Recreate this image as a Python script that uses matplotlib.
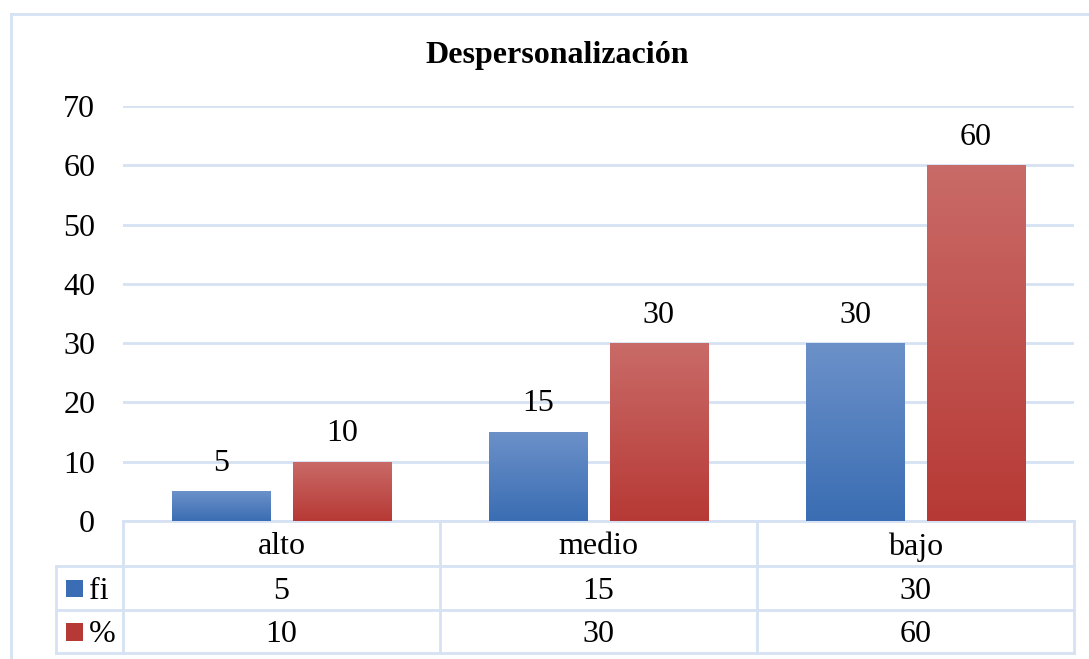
import numpy as np
import matplotlib.pyplot as plt
from matplotlib.lines import Line2D
from matplotlib.patches import Rectangle
import matplotlib.transforms as mtransforms

plt.rcParams['font.family'] = ['Liberation Serif', 'DejaVu Serif']

# data
categories = ["alto", "medio", "bajo"]
fi = [5, 15, 30]
pct = [10, 30, 60]
series_names = ["fi", "%"]

grid_col = "#d6e2f3"
blue_top, blue_bot = "#6c91c9", "#3a6db3"
red_top, red_bot = "#c96b68", "#b73935"

W, H = 1089, 659
fig = plt.figure(figsize=(W / 100, H / 100), dpi=100)
ax = fig.add_axes([123 / W, 1 - 521 / H, (1074 - 123) / W, (521 - 106) / H])

x = np.arange(len(categories))
bw = 0.31
off = 0.19
fs = 23


def gradient_bars(xs, vals, c_top, c_bot):
    bars = ax.bar(xs, vals, bw, color="none", edgecolor="none", zorder=3)
    cmap = plt.matplotlib.colors.LinearSegmentedColormap.from_list("g", [c_bot, c_top])
    grad = np.linspace(0, 1, 256).reshape(-1, 1)
    for b in bars:
        x0, y0 = b.get_x(), b.get_y()
        w, h = b.get_width(), b.get_height()
        im = ax.imshow(grad, cmap=cmap, origin="lower", aspect="auto",
                       extent=[x0, x0 + w, y0, y0 + h], zorder=3)
        im.set_clip_path(b)
        ax.text(x0 + w / 2, h + 2.3, str(int(h)), ha="center", va="bottom",
                fontsize=fs, color="black")
    return bars


gradient_bars(x - off, fi, blue_top, blue_bot)
gradient_bars(x + off, pct, red_top, red_bot)

ax.set_xlim(-0.5, len(categories) - 0.5)
ax.set_ylim(0, 70)
ax.set_yticks(range(0, 71, 10))
ax.yaxis.grid(True, color=grid_col, linewidth=2)
ax.set_axisbelow(True)
ax.set_xticks([])
for s in ["top", "right", "left"]:
    ax.spines[s].set_visible(False)
ax.spines["bottom"].set_color(grid_col)
ax.spines["bottom"].set_linewidth(2)
ax.tick_params(axis="y", length=0, labelsize=fs, pad=20)

# data table under the plot
trans = mtransforms.blended_transform_factory(ax.transData, ax.transAxes)
ah = 521 - 106
rows = [0, -45 / ah, -89 / ah, -132 / ah]
x_leg = -0.5 - 67 / ((1074 - 123) / 3)
lk = dict(color=grid_col, linewidth=2, transform=trans, clip_on=False)

ax.add_line(Line2D([x_leg, 2.5], [rows[2], rows[2]], **lk))
ax.add_line(Line2D([x_leg, 2.5], [rows[3], rows[3]], **lk))
ax.add_line(Line2D([-0.5, 2.5], [rows[1], rows[1]], **lk))
ax.add_line(Line2D([x_leg, -0.5], [rows[1], rows[1]], **lk))
ax.add_line(Line2D([x_leg, x_leg], [rows[1], rows[3]], **lk))
for xb in [-0.5, 0.5, 1.5, 2.5]:
    ax.add_line(Line2D([xb, xb], [rows[0], rows[3]], **lk))

for i, c in enumerate(categories):
    ax.text(i, (rows[0] + rows[1]) / 2, c, ha="center", va="center_baseline",
            fontsize=fs, transform=trans)
    ax.text(i, (rows[1] + rows[2]) / 2, str(fi[i]), ha="center",
            va="center_baseline", fontsize=fs, transform=trans)
    ax.text(i, (rows[2] + rows[3]) / 2, str(pct[i]), ha="center",
            va="center_baseline", fontsize=fs, transform=trans)

for r, (name, col) in enumerate(zip(series_names, [blue_bot, red_bot])):
    yc = (rows[r + 1] + rows[r + 2]) / 2
    ax.add_patch(Rectangle((x_leg + 0.032, yc - 0.022), 0.054, 0.042,
                           facecolor=col, edgecolor="none",
                           transform=trans, clip_on=False))
    ax.text(x_leg + 0.105, yc, name, ha="left", va="center_baseline",
            fontsize=fs, transform=trans)

# outer chart border
fig.add_artist(Line2D([11 / W, 11 / W], [0, 1 - 14 / H], color=grid_col,
                      linewidth=2, transform=fig.transFigure))
fig.add_artist(Line2D([11 / W, 1], [1 - 14 / H, 1 - 14 / H], color=grid_col,
                      linewidth=2, transform=fig.transFigure))

fig.text(557 / W, 1 - 55 / H, "Despersonalización", ha="center", va="center",
         fontsize=23, fontweight="bold")

fig.savefig("out.png", dpi=100)
